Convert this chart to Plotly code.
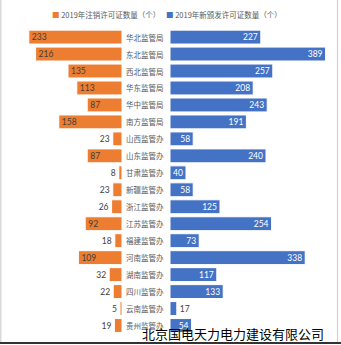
import plotly.graph_objects as go

categories = ["华北监管局", "东北监管局", "西北监管局", "华东监管局", "华中监管局", "南方监管局",
              "山西监管办", "山东监管办", "甘肃监管办", "新疆监管办", "浙江监管办", "江苏监管办",
              "福建监管办", "河南监管办", "湖南监管办", "四川监管办", "云南监管办", "贵州监管办"]
cancelled = [233, 216, 135, 113, 87, 158, 23, 87, 8, 23, 26, 92, 18, 109, 32, 22, 5, 19]
issued = [227, 389, 257, 208, 243, 191, 58, 240, 40, 58, 125, 254, 73, 338, 117, 133, 17, 54]
series_names = ["2019年注销许可证数量（个）", "2019年新颁发许可证数量（个）"]
watermark = "北京国电天力电力建设有限公司"

W, H = 341, 345
ORANGE = "#ED7D31"
BLUE = "#4472C4"
DARK = "#404040"

num_font = "Lato, 'Noto Sans CJK SC', sans-serif"
cjk_font = "'Noto Sans CJK SC', sans-serif"

left_pos = ["inside" if v >= 80 else "outside" for v in cancelled]
right_pos = ["inside" if v >= 30 else "outside" for v in issued]
right_col = ["white" if p == "inside" else DARK for p in right_pos]

fig = go.Figure()
fig.add_trace(go.Bar(
    y=categories, x=cancelled, orientation="h", xaxis="x", yaxis="y",
    marker=dict(color=ORANGE, line=dict(color="white", width=1)),
    text=[str(v) for v in cancelled], textposition=left_pos, insidetextanchor="end",
    textangle=0, constraintext="none",
    textfont=dict(family=num_font, size=8.5, color=DARK), cliponaxis=False,
    name=series_names[0], showlegend=False))
fig.add_trace(go.Bar(
    y=categories, x=issued, orientation="h", xaxis="x2", yaxis="y",
    marker=dict(color=BLUE, line=dict(color="white", width=1)),
    text=[str(v) for v in issued], textposition=right_pos, insidetextanchor="end",
    textangle=0, constraintext="none",
    textfont=dict(family=num_font, size=8.5, color=right_col), cliponaxis=False,
    name=series_names[1], showlegend=False))

y_top = 28.6
y_bot = 334.0
annotations = []
for c in categories:
    annotations.append(dict(x=145 / W, y=c, xref="paper", yref="y", text=c, showarrow=False,
                            xanchor="center", yanchor="middle",
                            font=dict(family=cjk_font, size=7.5, color="#595959")))
annotations.append(dict(x=50 / W, y=1 - 14 / H, xref="paper", yref="paper", xanchor="left", yanchor="middle",
                        showarrow=False,
                        text=f'<span style="color:{ORANGE}">■</span> {series_names[0]}',
                        font=dict(family=cjk_font, size=7.5, color="#595959")))
annotations.append(dict(x=164 / W, y=1 - 14 / H, xref="paper", yref="paper", xanchor="left", yanchor="middle",
                        showarrow=False,
                        text=f'<span style="color:{BLUE}">■</span> {series_names[1]}',
                        font=dict(family=cjk_font, size=7.5, color="#595959")))
annotations.append(dict(x=326 / W, y=1 - 333 / H, xref="paper", yref="paper", xanchor="right", yanchor="middle",
                        showarrow=False, text=watermark,
                        font=dict(family=cjk_font, size=13, color="black")))

shapes = [
    dict(type="line", xref="paper", yref="paper", x0=0.8 / W, x1=0.8 / W, y0=1 - 342 / H, y1=1,
         line=dict(color="#d0d0d0", width=1.2)),
    dict(type="line", xref="paper", yref="paper", x0=337.5 / W, x1=337.5 / W, y0=1 - 342 / H, y1=1,
         line=dict(color="#d0d0d0", width=1.2)),
    dict(type="line", xref="paper", yref="paper", x0=0, x1=1, y0=1 - 343 / H, y1=1 - 343 / H,
         line=dict(color="#333333", width=2)),
]

fig.update_layout(
    width=W, height=H, autosize=False,
    margin=dict(l=0, r=0, t=0, b=0),
    paper_bgcolor="white", plot_bgcolor="white",
    bargap=0.18,
    xaxis=dict(domain=[0, 122 / W], range=[305, 0], visible=False, fixedrange=True),
    xaxis2=dict(domain=[170 / W, 1], range=[0, (W - 170) / 0.4], visible=False, fixedrange=True),
    yaxis=dict(domain=[1 - y_bot / H, 1 - y_top / H], autorange="reversed", visible=False,
               categoryorder="array", categoryarray=categories),
    annotations=annotations,
    shapes=shapes,
)

fig.write_html("out.html")
